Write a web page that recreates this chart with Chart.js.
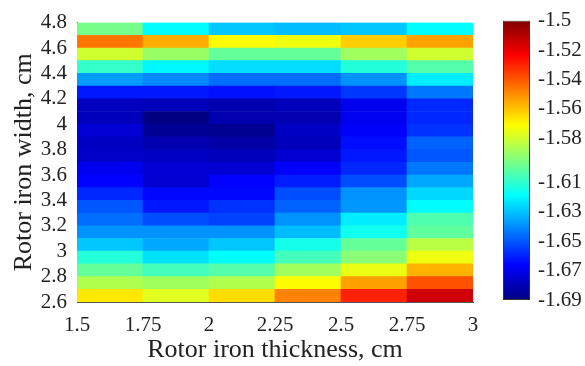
<!DOCTYPE html>
<html lang="en">
<head>
<meta charset="UTF-8">
<title>Rotor iron map</title>
<script src="https://cdn.jsdelivr.net/npm/chart.js"></script>
<style>
  body { margin: 0; background: #fff; }
  #main { position: absolute; left: 0; top: 0; width: 490px; height: 366px; }
  #bar { position: absolute; left: 490px; top: 0; width: 95px; height: 366px; }
</style>
</head>
<body>
<div id="main"><canvas id="heatChart"></canvas></div>
<div id="bar"><canvas id="scaleChart"></canvas></div>
<script>
// columns: rotor iron thickness bins (cm)
const thicknessBins = ['1.5-1.75', '1.75-2', '2-2.25', '2.25-2.5', '2.5-2.75', '2.75-3'];
const thicknessTicks = [1.5, 1.75, 2, 2.25, 2.5, 2.75, 3];
// rows: lower edge of each rotor iron width bin (cm), bottom to top
const widthRows = [2.6, 2.7, 2.8, 2.9, 3.0, 3.1, 3.2, 3.3, 3.4, 3.5, 3.6,
                   3.7, 3.8, 3.9, 4.0, 4.1, 4.2, 4.3, 4.4, 4.5, 4.6, 4.7];
const widthTicks = [2.6, 2.8, 3, 3.2, 3.4, 3.6, 3.8, 4, 4.2, 4.4, 4.6, 4.8];
// one row per width bin, one value per thickness bin
const values = [
  [-1.567, -1.577, -1.565, -1.548, -1.530, -1.515],
  [-1.586, -1.589, -1.586, -1.571, -1.554, -1.539],
  [-1.600, -1.606, -1.603, -1.589, -1.575, -1.557],
  [-1.612, -1.624, -1.619, -1.606, -1.593, -1.574],
  [-1.629, -1.635, -1.629, -1.615, -1.600, -1.584],
  [-1.639, -1.639, -1.639, -1.631, -1.616, -1.601],
  [-1.646, -1.652, -1.654, -1.639, -1.622, -1.604],
  [-1.650, -1.662, -1.657, -1.648, -1.638, -1.619],
  [-1.659, -1.665, -1.665, -1.652, -1.639, -1.626],
  [-1.666, -1.675, -1.666, -1.661, -1.652, -1.635],
  [-1.669, -1.674, -1.674, -1.667, -1.659, -1.644],
  [-1.676, -1.677, -1.679, -1.675, -1.662, -1.650],
  [-1.677, -1.681, -1.683, -1.679, -1.664, -1.648],
  [-1.674, -1.686, -1.687, -1.677, -1.667, -1.657],
  [-1.679, -1.690, -1.681, -1.681, -1.669, -1.659],
  [-1.678, -1.679, -1.681, -1.679, -1.669, -1.659],
  [-1.662, -1.662, -1.663, -1.662, -1.656, -1.644],
  [-1.637, -1.641, -1.646, -1.646, -1.639, -1.622],
  [-1.609, -1.620, -1.625, -1.625, -1.612, -1.603],
  [-1.580, -1.590, -1.600, -1.600, -1.589, -1.580],
  [-1.546, -1.556, -1.571, -1.574, -1.562, -1.554],
  [-1.597, -1.619, -1.629, -1.631, -1.629, -1.619]
];
const colorTicks = [-1.5, -1.52, -1.54, -1.56, -1.58, -1.61, -1.63, -1.65, -1.67, -1.69];
const cMin = -1.69, cMax = -1.5;

const serif = '"Liberation Serif", "Times New Roman", serif';
Chart.defaults.font.family = serif;
Chart.defaults.color = '#222';

// MATLAB jet colormap
function jetAt(t) {
  const c = x => Math.round(255 * Math.max(0, Math.min(1, x)));
  return `rgb(${c(1.5 - Math.abs(4 * t - 3))},${c(1.5 - Math.abs(4 * t - 2))},${c(1.5 - Math.abs(4 * t - 1))})`;
}
function jet(v) {
  return jetAt((v - cMin) / (cMax - cMin));
}

function fixTicks(list) {
  return scale => { scale.ticks = list.map(v => ({ value: v })); };
}

new Chart(document.getElementById('heatChart'), {
  type: 'bar',
  data: {
    labels: thicknessBins,
    datasets: widthRows.map((w, i) => ({
      data: values[i].map(() => [w, w + 0.1]),
      backgroundColor: values[i].map(jet),
      xAxisID: 'xc',
      grouped: false,
      barPercentage: 1,
      categoryPercentage: 1,
      borderWidth: 0
    }))
  },
  options: {
    responsive: true,
    maintainAspectRatio: false,
    animation: false,
    layout: { padding: { top: 13, right: 17, left: 0, bottom: 0 } },
    plugins: { legend: { display: false }, tooltip: { enabled: false } },
    scales: {
      xc: { type: 'category', display: false, offset: true },
      x: {
        type: 'linear',
        position: 'bottom',
        min: 1.5,
        max: 3,
        offset: false,
        afterBuildTicks: fixTicks(thicknessTicks),
        afterFit: s => { s.height = 64; },
        grid: { display: false, drawTicks: false, offset: false },
        border: { display: true, color: '#555' },
        ticks: { padding: 11, maxRotation: 0, autoSkip: false, font: { size: 21 }, callback: v => String(v) },
        title: { display: true, text: 'Rotor iron thickness, cm', font: { size: 26 }, padding: { top: 0, bottom: 0 } }
      },
      y: {
        type: 'linear',
        min: 2.6,
        max: 4.8,
        afterBuildTicks: fixTicks(widthTicks),
        afterFit: s => { s.width = 77; },
        grid: { display: false, drawTicks: false },
        border: { display: true, color: '#555' },
        ticks: { padding: 10, autoSkip: false, font: { size: 21 }, callback: v => String(+v.toFixed(2)) },
        title: { display: true, text: 'Rotor iron width, cm', font: { size: 26 }, padding: { top: 9, bottom: 0 } }
      }
    }
  }
});

function barGradient(ctx) {
  const area = ctx.chart.chartArea;
  if (!area) return null;
  const g = ctx.chart.ctx.createLinearGradient(0, area.bottom, 0, area.top);
  [0, 0.125, 0.375, 0.625, 0.875, 1].forEach(t => g.addColorStop(t, jetAt(t)));
  return g;
}

new Chart(document.getElementById('scaleChart'), {
  type: 'bar',
  data: {
    labels: [''],
    datasets: [{
      data: [[cMin, cMax]],
      backgroundColor: barGradient,
      borderColor: '#333',
      borderWidth: 1,
      borderSkipped: false,
      inflateAmount: 0,
      barPercentage: 1,
      categoryPercentage: 1
    }]
  },
  options: {
    responsive: true,
    maintainAspectRatio: false,
    animation: false,
    layout: { padding: { top: 14, left: 13, right: 0, bottom: 66 } },
    plugins: { legend: { display: false }, tooltip: { enabled: false } },
    scales: {
      x: { display: false },
      y: {
        position: 'right',
        min: cMin,
        max: cMax,
        afterBuildTicks: fixTicks(colorTicks),
        afterFit: s => { s.width = 55; },
        grid: { display: false, drawTicks: false },
        border: { display: false },
        ticks: { padding: 8, autoSkip: false, font: { size: 21 }, callback: v => String(v) }
      }
    }
  }
});
</script>
</body>
</html>
